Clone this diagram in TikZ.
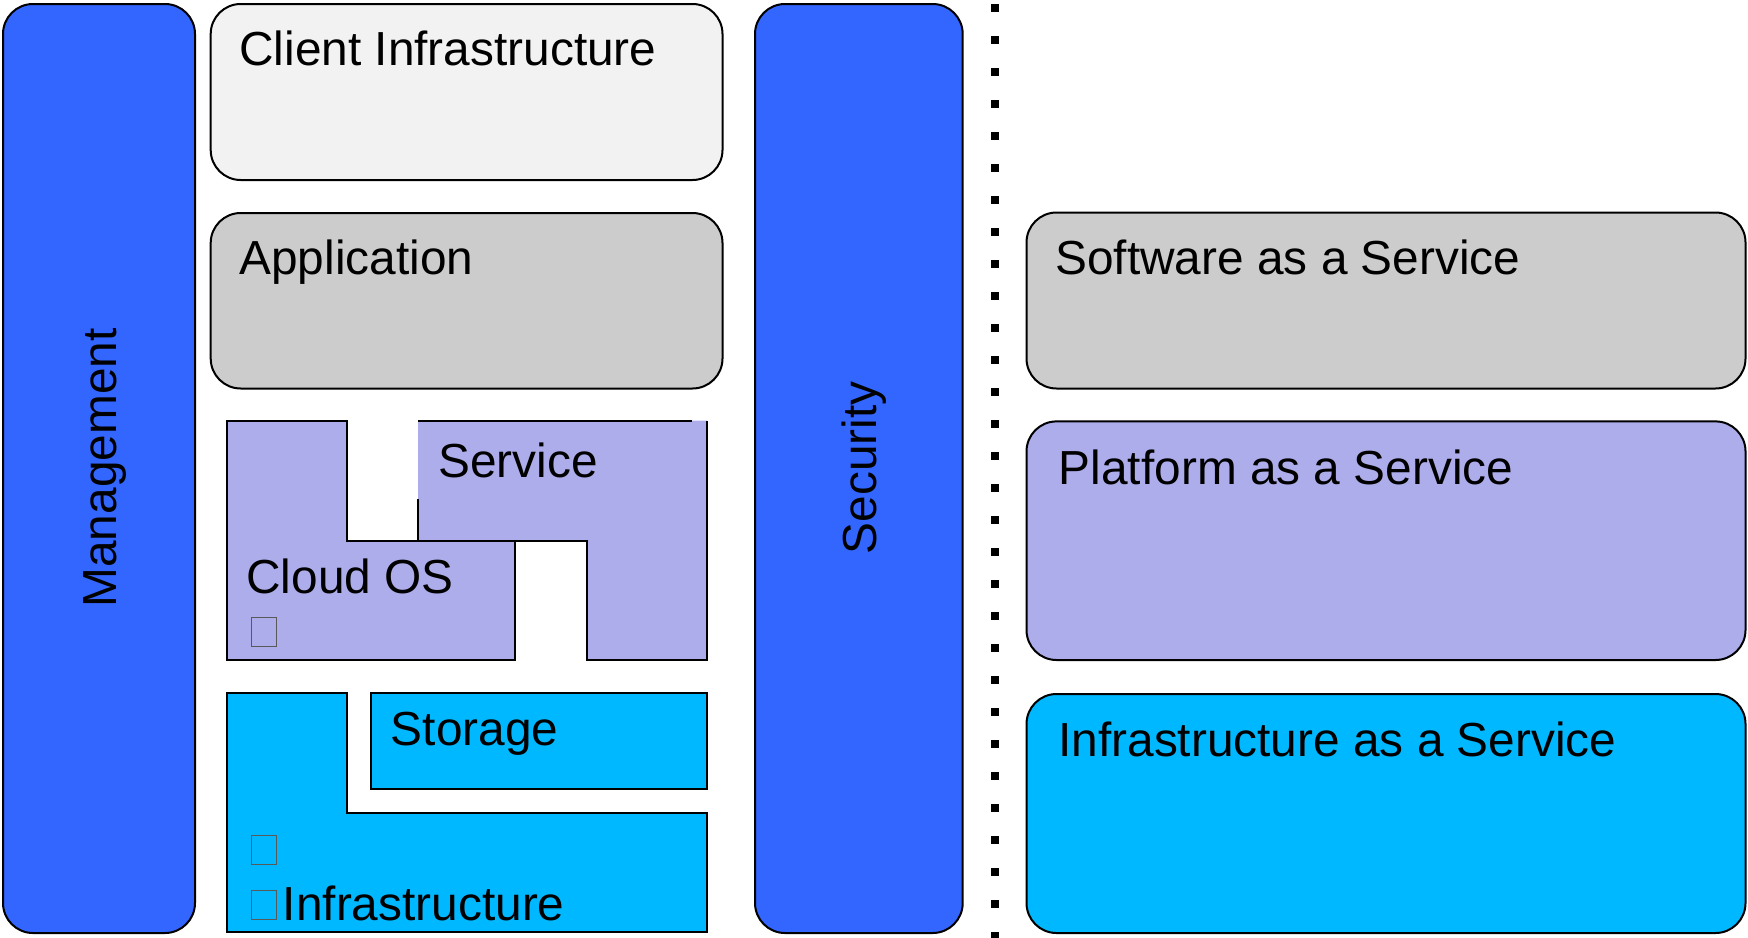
\documentclass[tikz,border=0pt]{standalone}
\usepackage{fontspec}
\setmainfont{Liberation Sans}
\definecolor{mblue}{HTML}{3366FF}
\definecolor{clientc}{HTML}{F2F2F2}
\definecolor{appgray}{HTML}{CCCCCC}
\definecolor{paasc}{RGB}{173,173,235}
\definecolor{iaasc}{HTML}{00B8FF}
\begin{document}
\begin{tikzpicture}[x=0.5pt,y=-0.5pt,
  every node/.style={inner sep=0pt, font=\fontsize{23.9pt}{28pt}\selectfont},
  rbox/.style={draw=black, line width=1pt, rounded corners=15pt},
  sbox/.style={draw=black, line width=1pt},
  sline/.style={draw=black, line width=1pt},
  lbl/.style={anchor=base west},
  vlbl/.style={anchor=base, rotate=90},
  tofu/.style={draw=black!65, line width=0.5pt},
  dotline/.style={line width=4pt, dash pattern=on 4pt off 12pt}]
\useasboundingbox (0,0) rectangle (1748,937);
% columns
\path[rbox, fill=mblue] (3,4) rectangle (195,933);
\path[rbox, fill=mblue] (755,4) rectangle (962.7,933);
% left stack
\path[rbox, fill=clientc] (210.7,4) rectangle (722.5,180);
\path[rbox, fill=appgray] (210.7,213) rectangle (722.5,388.5);
% cloud os
\path[sbox, fill=paasc] (226.7,420.7) -- (346.7,420.7) -- (346.7,540.7) -- (515,540.7) -- (515,660) -- (226.7,660) -- cycle;
% service
\fill[paasc] (418,420.7) -- (707,420.7) -- (707,660) -- (586.7,660) -- (586.7,540.7) -- (418,540.7) -- cycle;
\draw[sline] (418,420.7) -- (692,420.7);
\draw[sline] (418,499.3) -- (418,540.7) -- (586.7,540.7) -- (586.7,660) -- (707,660) -- (707,420.7);
% infrastructure and storage
\path[sbox, fill=iaasc] (226.7,692.7) -- (346.7,692.7) -- (346.7,813.3) -- (707.3,813.3) -- (707.3,932.3) -- (226.7,932.3) -- cycle;
\path[sbox, fill=iaasc] (370.7,692.7) rectangle (707.3,789);
% right stack
\path[rbox, fill=appgray] (1026.5,212.5) rectangle (1745.5,388.5);
\path[rbox, fill=paasc] (1026.5,421.4) rectangle (1745.5,660);
\path[rbox, fill=iaasc] (1026.5,694) rectangle (1745.5,933);
% dotted separator
\draw[dotline] (995,4.3) -- (995,945);
% missing-glyph boxes
\draw[tofu] (251.7,617.3) rectangle (276,646);
\draw[tofu] (251.7,835) rectangle (276,864.3);
\draw[tofu] (251.7,890.7) rectangle (276,919.3);
% labels
\node[lbl] (client) at (239,65.7) {Client Infrastructure};
\node[lbl] (app) at (239,274.5) {Application};
\node[lbl] (saas) at (1055,274) {Software as a Service};
\node[lbl] (paas) at (1058.5,484) {Platform as a Service};
\node[lbl] (iaas) at (1058,756.5) {Infrastructure as a Service};
\node[lbl] (service) at (438,477) {Service};
\node[lbl] (cloudos) at (246,593) {Cloud OS};
\node[lbl] (storage) at (390.5,745) {Storage};
\node[lbl] (infra) at (282.5,920) {Infrastructure};
\node[vlbl] (mgmt) at (116,468) {Management};
\node[vlbl] (sec) at (876,468) {Security};
\end{tikzpicture}
\end{document}
